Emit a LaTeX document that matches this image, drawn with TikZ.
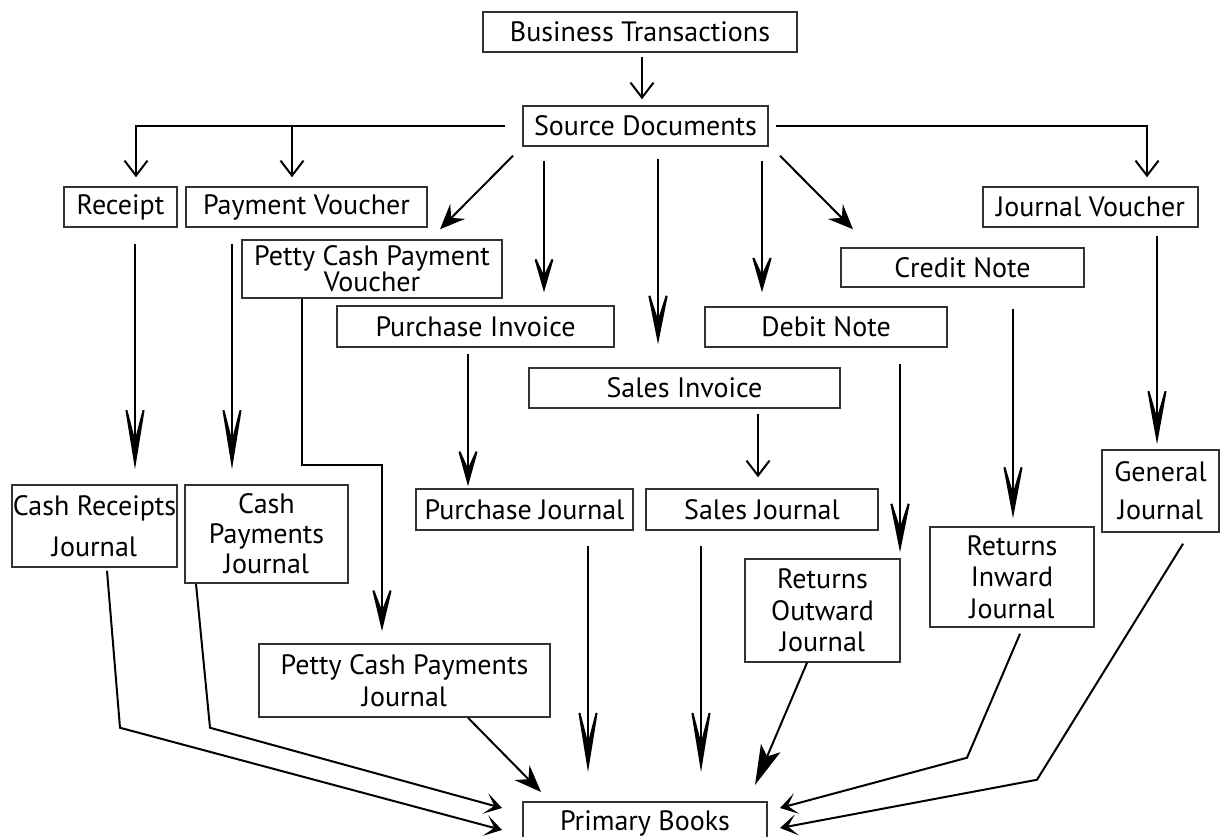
\documentclass[tikz,border=0pt]{standalone}
\usepackage{fontspec}
\setmainfont{PT Sans}
\usetikzlibrary{arrows.meta}

\begin{document}
\begin{tikzpicture}[x=1pt,y=-1pt,
   font=\fontsize{28}{31}\selectfont,
   box/.style={draw=black!80,line width=1.5pt,inner sep=0pt,align=center},
   barb/.style={line width=2pt,-{Straight Barb[length=15pt,width=23pt]}},
   longhead/.style 2 args={line width=2pt,-{Stealth[length=#1,width=26pt,inset=#2]}},
   midhead/.style={line width=2pt,-{Stealth[length=#1,width=21pt,inset=9pt]}}]
   \useasboundingbox (0,0) rectangle (1221,837);
   % documents
   \node[box,minimum width=314pt,minimum height=40pt] (bt) at (640,32) {Business Transactions};
   \node[box,minimum width=245pt,minimum height=40pt] (sd) at (645.5,126) {Source Documents};
   \node[box,minimum width=113pt,minimum height=40pt] (rcpt) at (120.5,207) {Receipt};
   \node[box,minimum width=241pt,minimum height=40pt] (pv) at (306.5,207) {Payment Voucher};
   \node[box,minimum width=215pt,minimum height=40pt] (jv) at (1090.5,207) {Journal Voucher};
   \node[box,minimum width=260pt,minimum height=58pt,font=\fontsize{28}{26}\selectfont] (pcpv) at (372,269) {Petty Cash Payment\\Voucher};
   \node[box,minimum width=277pt,minimum height=41pt] (pi) at (475.5,326.5) {Purchase Invoice};
   \node[box,minimum width=311pt,minimum height=40pt] (si) at (684.5,388) {Sales Invoice};
   \node[box,minimum width=242pt,minimum height=40pt] (dn) at (826,327) {Debit Note};
   \node[box,minimum width=243pt,minimum height=39pt] (cn) at (962.5,267.5) {Credit Note};
   % journals
   \node[box,minimum width=165pt,minimum height=82pt,font=\fontsize{28}{41}\selectfont] (crj) at (94.5,526) {Cash Receipts\\Journal};
   \node[box,minimum width=163pt,minimum height=98pt,font=\fontsize{28}{30}\selectfont] (cpj) at (266.5,534) {Cash\\Payments\\Journal};
   \node[box,minimum width=217pt,minimum height=41pt] (pj) at (524.5,509.5) {Purchase Journal};
   \node[box,minimum width=232pt,minimum height=41pt] (sj) at (762,509.5) {Sales Journal};
   \node[box,minimum width=117pt,minimum height=82pt,font=\fontsize{28}{38}\selectfont] (gj) at (1160.5,491) {General\\Journal};
   \node[box,minimum width=155pt,minimum height=103pt,font=\fontsize{28}{31.5}\selectfont] (roj) at (822.5,610.5) {Returns\\Outward\\Journal};
   \node[box,minimum width=164pt,minimum height=100pt,font=\fontsize{28}{31.5}\selectfont] (rij) at (1012,577) {Returns\\Inward\\Journal};
   \node[box,minimum width=291pt,minimum height=73pt,font=\fontsize{28}{32}\selectfont] (pcpj) at (404.5,680.5) {Petty Cash Payments\\Journal};
   \node[box,minimum width=244pt,inner ysep=9pt,anchor=north] (pb) at (645,801) {Primary Books};
   % tips of the branch arrows
   \coordinate (rcpttip) at ([xshift=15.5pt,yshift=9pt]rcpt.north);
   \coordinate (pvtip) at ([xshift=-14.5pt,yshift=9pt]pv.north);
   \coordinate (jvtip) at ([xshift=56.5pt,yshift=9pt]jv.north);
   \coordinate (pcpjtip) at ([xshift=-22.5pt,yshift=12pt]pcpj.north);
   % top part
   \draw[barb] ([xshift=2pt,yshift=-4pt]bt.south) -- ([xshift=-3.5pt,yshift=6pt]sd.north);
   \draw[barb] ([xshift=-17pt]sd.west) -| (rcpttip);
   \draw[barb] (pvtip |- sd.west) -- (pvtip);
   \draw[barb] ([xshift=7pt]sd.east) -| (jvtip);
   \draw[midhead=25pt] ([xshift=-132.5pt,yshift=-9pt]sd.south) -- ([xshift=68pt,yshift=10pt]pcpv.north);
   \draw[midhead=25pt] ([xshift=134.5pt,yshift=-9pt]sd.south) -- ([xshift=-109.5pt,yshift=18pt]cn.north);
   \draw[longhead={45pt}{28pt}] ([xshift=-101.5pt,yshift=-14pt]sd.south) -- ([xshift=68.5pt,yshift=13pt]pi.north);
   \draw[longhead={65pt}{40pt}] ([xshift=12.5pt,yshift=-12pt]sd.south) -- ([xshift=-26.5pt,yshift=23pt]si.north);
   \draw[longhead={46pt}{28pt}] ([xshift=116.5pt,yshift=-14pt]sd.south) -- ([xshift=-64pt,yshift=14pt]dn.north);
   % documents to journals
   \draw[longhead={80pt}{50pt}] ([xshift=14.5pt,yshift=-16pt]rcpt.south) -- ([xshift=40.5pt,yshift=15pt]crj.north);
   \draw[longhead={80pt}{50pt}] ([xshift=-74.5pt,yshift=-16pt]pv.south) -- ([xshift=-34.5pt,yshift=15pt]cpj.north);
   \draw[longhead={55pt}{34pt}] ([xshift=-70pt]pcpv.south) |- ([yshift=166pt]pcpjtip) -- (pcpjtip);
   \draw[longhead={47pt}{29pt}] ([xshift=-7.5pt,yshift=-6pt]pi.south) -- ([xshift=-56.5pt,yshift=2pt]pj.north);
   \draw[barb] ([xshift=73.5pt,yshift=-5pt]si.south) -- ([xshift=-4pt,yshift=11pt]sj.north);
   \draw[longhead={65pt}{40pt}] ([xshift=74pt,yshift=-16pt]dn.south) -- ([xshift=77.5pt,yshift=6pt]roj.north);
   \draw[longhead={69pt}{43pt}] ([xshift=50.5pt,yshift=-21pt]cn.south) -- ([xshift=1pt,yshift=8pt]rij.north);
   \draw[longhead={72pt}{45pt}] ([xshift=66.5pt,yshift=-8pt]jv.south) -- ([xshift=-3.5pt,yshift=5pt]gj.north);
   % journals to primary books
   \draw[midhead=17pt] ([xshift=12.5pt,yshift=-3pt]crj.south) -- ++(13,157) -- ([xshift=-143pt,yshift=-29pt]pb.north);
   \draw[midhead=17pt] ([xshift=-70.5pt]cpj.south) -- ++(14,144) -- ([xshift=-143pt,yshift=-7pt]pb.north);
   \draw[midhead=27pt] ([xshift=63.5pt]pcpj.south) -- ([xshift=-104pt,yshift=9pt]pb.north);
   \draw[longhead={80pt}{50pt}] ([xshift=63.5pt,yshift=-15pt]pj.south) -- ([xshift=-57pt,yshift=29pt]pb.north);
   \draw[longhead={80pt}{50pt}] ([xshift=-61pt,yshift=-15pt]sj.south) -- ([xshift=56pt,yshift=29pt]pb.north);
   \draw[midhead=40pt] ([xshift=-15.5pt]roj.south) -- ([xshift=110pt,yshift=16pt]pb.north);
   \draw[midhead=17pt] ([xshift=8pt,yshift=-6pt]rij.south) -- ++(-53,124) -- ([xshift=135pt,yshift=-7pt]pb.north);
   \draw[midhead=17pt] ([xshift=22.5pt,yshift=-11pt]gj.south) -- ++(-146,236) -- ([xshift=135pt,yshift=-27pt]pb.north);
\end{tikzpicture}
\end{document}
